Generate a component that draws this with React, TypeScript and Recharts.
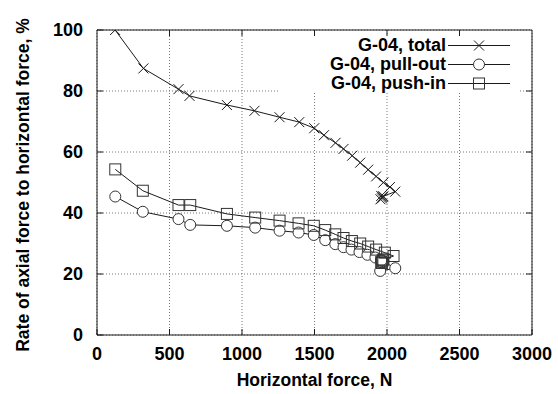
import { LineChart, Line, XAxis, YAxis, CartesianGrid, Legend, Label } from 'recharts';

const xTicks = [0, 500, 1000, 1500, 2000, 2500, 3000];
const yTicks = [0, 20, 40, 60, 80, 100];

const totalX = [125, 320, 562, 638, 896, 1086, 1259, 1395, 1498, 1565, 1645, 1700, 1760, 1815, 1870, 1925, 1975, 2020, 2057, 1975, 1965, 1955, 1970, 1960];
const totalY = [100, 87.4, 80.6, 78.4, 75.4, 73.5, 71.4, 69.8, 67.8, 65.5, 63, 61, 58.8, 56.5, 54.2, 52, 50, 48.5, 47, 45.5, 44.8, 44.5, 45.2, 45.6];

const pullX = [126, 316, 562, 643, 896, 1091, 1259, 1390, 1495, 1574, 1643, 1700, 1755, 1810, 1865, 1920, 1960, 2057, 1953, 1965, 1975, 1960];
const pullY = [45.4, 40.4, 38, 36.1, 35.8, 35.2, 34.2, 33.6, 32.8, 31.1, 29.8, 28.8, 28, 27.2, 26.3, 25.4, 24.5, 21.9, 21, 23.8, 24.2, 24.4];

const pushX = [126, 316, 562, 643, 896, 1091, 1259, 1390, 1495, 1574, 1643, 1700, 1758, 1815, 1870, 1925, 1985, 2045, 1970, 1960, 1975, 1965];
const pushY = [54.3, 47.3, 42.6, 42.6, 39.7, 38.5, 37.5, 36.6, 35.8, 34.4, 33, 31.8, 30.8, 30, 29, 28, 27, 25.9, 24.5, 24, 24.8, 23.6];

const toPoints = (xs: number[], ys: number[]) => xs.map((x, i) => ({ x, y: ys[i] }));
const total = toPoints(totalX, totalY);
const pullOut = toPoints(pullX, pullY);
const pushIn = toPoints(pushX, pushY);

const FONT = '"Liberation Sans", Arial, Helvetica, sans-serif';
const INK = '#1a1a1a';

const W = 558;
const H = 394;
const margin = { top: 30, right: 26, bottom: 0, left: 0 };
const Y_AXIS_W = 97;
const X_AXIS_H = 59;
// plot box, derived from the layout above (used for the gnuplot-style frame)
const plot = {
  left: margin.left + Y_AXIS_W,
  top: margin.top,
  width: W - margin.left - margin.right - Y_AXIS_W,
  height: H - margin.top - margin.bottom - X_AXIS_H,
};

const CrossDot = (p: any) => {
  const { cx, cy } = p;
  return (
    <path key={`c-${p.index}`} d={`M${cx - 5},${cy - 5}L${cx + 5},${cy + 5}M${cx - 5},${cy + 5}L${cx + 5},${cy - 5}`} stroke={INK} strokeWidth={1} fill="none" />
  );
};

const CircleDot = (p: any) => (
  <circle key={`o-${p.index}`} cx={p.cx} cy={p.cy} r={5.5} stroke="#333" strokeWidth={1} fill="white" />
);

const SquareDot = (p: any) => (
  <rect key={`s-${p.index}`} x={p.cx - 5.5} y={p.cy - 5.5} width={11} height={11} stroke="#333" strokeWidth={1} fill="none" />
);

const legendRows = [
  { name: 'G-04, total', mark: 'x' },
  { name: 'G-04, pull-out', mark: 'o' },
  { name: 'G-04, push-in', mark: 's' },
];

const renderLegend = () => (
  <div style={{ background: 'white', width: 240, height: 57, boxSizing: 'border-box', fontFamily: FONT, fontWeight: 'bold', fontSize: 18 }}>
    {legendRows.map((r) => (
      <div key={r.name} style={{ display: 'flex', alignItems: 'center', height: 19 }}>
        <span style={{ width: 167, textAlign: 'right', lineHeight: '19px', whiteSpace: 'nowrap' }}>{r.name}</span>
        <svg width={64} height={19} style={{ marginLeft: 2 }}>
          <line x1={0} y1={9.5} x2={62} y2={9.5} stroke={INK} strokeWidth={1} />
          {r.mark === 'x' && <path d="M26,4.5L36,14.5M26,14.5L36,4.5" stroke={INK} fill="none" />}
          {r.mark === 'o' && <circle cx={31} cy={9.5} r={5.5} stroke="#333" fill="white" />}
          {r.mark === 's' && <rect x={25.5} y={4} width={11} height={11} stroke="#333" fill="none" />}
        </svg>
      </div>
    ))}
  </div>
);

const renderYLabel = () => (
  <text x={23} y={185} transform="rotate(-90 23 185)" textAnchor="middle" dominantBaseline="central" fontFamily={FONT} fontWeight="bold" fontSize={17.5} fill="#000">
    Rate of axial force to horizontal force, %
  </text>
);

// top and right border with mirrored inward ticks, like gnuplot's frame
function Frame() {
  const xMax = xTicks[xTicks.length - 1];
  const yMax = yTicks[yTicks.length - 1];
  const right = plot.left + plot.width;
  const bottom = plot.top + plot.height;
  return (
    <svg width={W} height={H} style={{ position: 'absolute', left: 0, top: 0, pointerEvents: 'none' }}>
      <line x1={plot.left} x2={right} y1={plot.top} y2={plot.top} stroke={INK} strokeWidth={1} />
      <line x1={right} x2={right} y1={plot.top} y2={bottom} stroke={INK} strokeWidth={1} />
      {xTicks.slice(1, -1).map((t) => {
        const x = plot.left + (t / xMax) * plot.width;
        return <line key={`tx${t}`} x1={x} x2={x} y1={plot.top} y2={plot.top + 6} stroke={INK} strokeWidth={1} />;
      })}
      {yTicks.slice(1, -1).map((t) => {
        const y = bottom - (t / yMax) * plot.height;
        return <line key={`ty${t}`} x1={right} x2={right - 6} y1={y} y2={y} stroke={INK} strokeWidth={1} />;
      })}
    </svg>
  );
}

export default function App() {
  const tickStyle = { fontFamily: FONT, fontWeight: 'bold', fontSize: 18, fill: '#000' };
  return (
    <div style={{ position: 'absolute', left: 0, top: 0, width: W, height: H, background: 'white' }}>
      <LineChart width={W} height={H} margin={margin}>
        <CartesianGrid stroke="#777" strokeDasharray="1 2" horizontalValues={yTicks} verticalValues={xTicks} />
        <XAxis
          type="number"
          dataKey="x"
          domain={[0, 3000]}
          ticks={xTicks}
          height={X_AXIS_H}
          stroke={INK}
          tickSize={-6}
          tickMargin={18}
          tick={tickStyle}
          allowDataOverflow
        >
          <Label value="Horizontal force, N" position="insideBottom" offset={8} style={{ fontFamily: FONT, fontWeight: 'bold', fontSize: 17.5, fill: '#000' }} />
        </XAxis>
        <YAxis
          type="number"
          domain={[0, 100]}
          ticks={yTicks}
          width={Y_AXIS_W}
          stroke={INK}
          tickSize={-6}
          tickMargin={20}
          tick={tickStyle}
          allowDataOverflow
          label={{ content: renderYLabel }}
        />
        <Legend content={renderLegend} layout="horizontal" verticalAlign="middle" wrapperStyle={{ left: 279, top: 36, width: 240, height: 57 }} />
        <Line data={total} dataKey="y" name="G-04, total" stroke={INK} strokeWidth={1} dot={CrossDot} isAnimationActive={false} />
        <Line data={pullOut} dataKey="y" name="G-04, pull-out" stroke={INK} strokeWidth={1} dot={CircleDot} isAnimationActive={false} />
        <Line data={pushIn} dataKey="y" name="G-04, push-in" stroke={INK} strokeWidth={1} dot={SquareDot} isAnimationActive={false} />
      </LineChart>
      <Frame />
    </div>
  );
}
